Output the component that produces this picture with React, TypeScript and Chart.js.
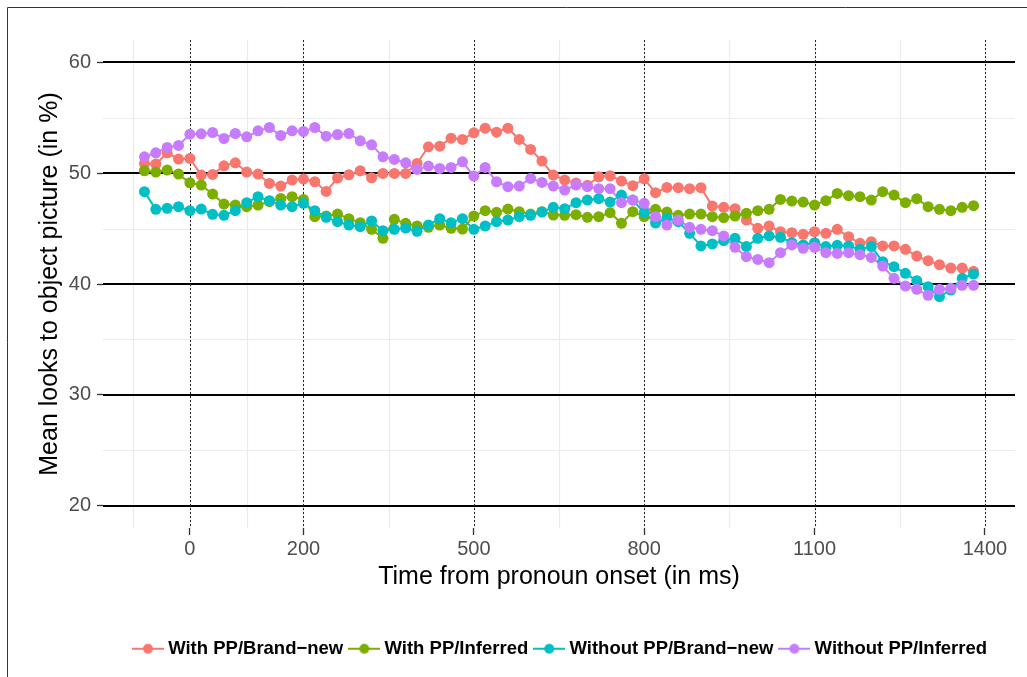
import React, { useEffect, useRef } from "react";
import { Chart, registerables } from "chart.js";

Chart.register(...registerables);

// ---- data ----
const timesMs = [
  -80, -60, -40, -20, 0, 20, 40, 60, 80, 100, 120, 140, 160, 180, 200, 220, 240, 260, 280, 300,
  320, 340, 360, 380, 400, 420, 440, 460, 480, 500, 520, 540, 560, 580, 600, 620, 640, 660, 680, 700,
  720, 740, 760, 780, 800, 820, 840, 860, 880, 900, 920, 940, 960, 980, 1000, 1020, 1040, 1060, 1080, 1100,
  1120, 1140, 1160, 1180, 1200, 1220, 1240, 1260, 1280, 1300, 1320, 1340, 1360, 1380,
];

const withPPBrandNew = [
  50.87, 50.81, 51.83, 51.26, 51.32, 49.82, 49.88, 50.66, 50.93, 50.09, 49.91, 49.07, 48.83, 49.37, 49.46, 49.22, 48.35, 49.55, 49.85, 50.21,
  49.58, 49.97, 49.97, 49.97, 50.87, 52.37, 52.43, 53.15, 53.03, 53.63, 54.05, 53.69, 54.05, 53.03, 52.13, 51.08, 49.82, 49.37, 49.1, 48.9,
  49.67, 49.76, 49.28, 48.86, 49.49, 48.23, 48.71, 48.68, 48.59, 48.68, 47.03, 46.91, 46.79, 45.77, 45.02, 45.23, 44.72, 44.63, 44.48, 44.72,
  44.57, 44.93, 44.27, 43.67, 43.81, 43.43, 43.43, 43.13, 42.52, 42.1, 41.74, 41.44, 41.44, 41.14,
];

const withPPInferred = [
  50.21, 50.09, 50.27, 49.91, 49.13, 48.92, 48.11, 47.21, 47.12, 46.97, 47.12, 47.42, 47.72, 47.87, 47.63, 46.07, 46.13, 46.31, 45.89, 45.53,
  44.93, 44.12, 45.83, 45.47, 45.23, 45.11, 45.32, 45.02, 44.96, 46.13, 46.61, 46.46, 46.76, 46.52, 46.31, 46.52, 46.22, 46.19, 46.25, 46.01,
  46.07, 46.43, 45.47, 46.52, 46.07, 46.73, 46.49, 46.19, 46.31, 46.31, 46.07, 45.98, 46.13, 46.37, 46.61, 46.73, 47.63, 47.48, 47.39, 47.12,
  47.51, 48.17, 47.96, 47.87, 47.57, 48.32, 48.02, 47.33, 47.69, 46.97, 46.73, 46.61, 46.91, 47.06,
];

const withoutPPBrandNew = [
  48.32, 46.73, 46.82, 46.97, 46.61, 46.76, 46.28, 46.19, 46.61, 47.33, 47.87, 47.51, 47.12, 46.97, 47.27, 46.61, 46.01, 45.62, 45.32, 45.17,
  45.68, 44.81, 44.93, 45.05, 44.75, 45.32, 45.89, 45.53, 45.89, 44.93, 45.23, 45.62, 45.77, 46.07, 46.19, 46.49, 46.91, 46.79, 47.33, 47.57,
  47.69, 47.39, 48.02, 47.57, 46.43, 45.5, 45.95, 45.62, 44.57, 43.43, 43.61, 43.91, 44.12, 43.37, 44.12, 44.33, 44.21, 43.73, 43.52, 43.73,
  43.37, 43.49, 43.43, 43.13, 43.37, 42.01, 41.56, 40.96, 40.3, 39.76, 38.86, 39.46, 40.51, 40.9,
];

const withoutPPInferred = [
  51.47, 51.83, 52.31, 52.49, 53.51, 53.54, 53.66, 53.12, 53.57, 53.27, 53.81, 54.11, 53.39, 53.81, 53.75, 54.11, 53.33, 53.48, 53.57, 52.91,
  52.55, 51.47, 51.23, 50.93, 50.33, 50.63, 50.42, 50.51, 51.02, 49.73, 50.51, 49.22, 48.77, 48.83, 49.52, 49.16, 48.83, 48.47, 48.92, 48.77,
  48.59, 48.59, 47.33, 47.57, 47.27, 46.07, 45.32, 45.77, 45.11, 44.93, 44.81, 44.33, 43.31, 42.46, 42.22, 41.92, 42.82, 43.52, 43.22, 43.31,
  42.82, 42.76, 42.82, 42.64, 42.4, 41.62, 40.51, 39.82, 39.52, 38.98, 39.52, 39.61, 39.88, 39.88,
];

const seriesLabels = [
  "With PP/Brand\u2212new",
  "With PP/Inferred",
  "Without PP/Brand\u2212new",
  "Without PP/Inferred",
];
const seriesValues = [withPPBrandNew, withPPInferred, withoutPPBrandNew, withoutPPInferred];
const seriesColors = ["#F8766D", "#7CAE00", "#00BFC4", "#C77CFF"];

const xTickValues = [0, 200, 500, 800, 1100, 1400];
const xMinorValues = [-100, 100, 350, 650, 950, 1250];
const yTickValues = [20, 30, 40, 50, 60];
const yMinorValues = [25, 35, 45, 55];

const xTitle = "Time from pronoun onset (in ms)";
const yTitle = "Mean looks to object picture (in %)";

const FONT = "'Liberation Sans', Arial, Helvetica, sans-serif";
const CANVAS_W = 1124;
const CANVAS_H = 677;

function makeMarker(color: string): HTMLCanvasElement {
  const c = document.createElement("canvas");
  c.width = 32;
  c.height = 12;
  const g = c.getContext("2d")!;
  g.strokeStyle = color;
  g.lineWidth = 2;
  g.beginPath();
  g.moveTo(0, 6);
  g.lineTo(32, 6);
  g.stroke();
  g.fillStyle = color;
  g.beginPath();
  g.arc(16, 6, 5, 0, Math.PI * 2);
  g.fill();
  return c;
}

const ggPlugin = {
  id: "ggGrid",
  beforeDatasetsDraw(chart: any) {
    const { ctx, chartArea: a, scales } = chart;
    const xs = scales.x;
    const ys = scales.y;
    const seg = (x1: number, y1: number, x2: number, y2: number) => {
      ctx.beginPath();
      ctx.moveTo(x1, y1);
      ctx.lineTo(x2, y2);
      ctx.stroke();
    };
    ctx.save();
    ctx.strokeStyle = "#EBEBEB";
    ctx.lineWidth = 1.2;
    [...xMinorValues, ...xTickValues].forEach((v) => {
      const px = Math.round(xs.getPixelForValue(v)) + 0.5;
      seg(px, a.top, px, a.bottom);
    });
    yMinorValues.forEach((v) => {
      const py = Math.round(ys.getPixelForValue(v)) + 0.5;
      seg(a.left, py, a.right, py);
    });
    ctx.strokeStyle = "#000000";
    ctx.lineWidth = 2;
    yTickValues.forEach((v) => {
      const py = Math.round(ys.getPixelForValue(v));
      seg(a.left, py, a.right, py);
    });
    ctx.lineWidth = 1;
    ctx.strokeStyle = "#222222";
    ctx.setLineDash([2, 2]);
    xTickValues.forEach((v) => {
      const px = Math.round(xs.getPixelForValue(v)) + 0.5;
      seg(px, a.top, px, a.bottom);
    });
    ctx.restore();
  },
  afterDraw(chart: any) {
    const { ctx } = chart;
    ctx.save();
    ctx.strokeStyle = "#333333";
    ctx.lineWidth = 1;
    ctx.beginPath();
    ctx.moveTo(7.5, CANVAS_H + 5);
    ctx.lineTo(7.5, 7.5);
    ctx.lineTo(CANVAS_W + 5, 7.5);
    ctx.stroke();
    ctx.restore();
  },
};

export default function App() {
  const canvasRef = useRef<HTMLCanvasElement | null>(null);

  useEffect(() => {
    document.body.style.margin = "0";
    const canvas = canvasRef.current;
    if (!canvas) return;
    const markers = seriesColors.map((c) => makeMarker(c));

    const lineSets = seriesValues.map((vals, s) => ({
      label: seriesLabels[s],
      data: timesMs.map((t, i) => ({ x: t, y: vals[i] })),
      borderColor: seriesColors[s],
      backgroundColor: seriesColors[s],
      borderWidth: 2,
      pointRadius: 0,
      showLine: true,
      fill: false,
      tension: 0,
      order: 8 - s,
    }));
    const pointSets = seriesValues.map((vals, s) => ({
      label: seriesLabels[s] + " pts",
      data: timesMs.map((t, i) => ({ x: t, y: vals[i] })),
      borderColor: seriesColors[s],
      backgroundColor: seriesColors[s],
      pointBackgroundColor: seriesColors[s],
      pointBorderWidth: 0,
      pointRadius: 5.5,
      showLine: false,
      order: 4 - s,
    }));

    const tickFont = { family: FONT, size: 20 };
    const titleFont = { family: FONT, size: 25 };

    const chart = new Chart(canvas, {
      type: "line",
      data: { datasets: [...lineSets, ...pointSets] as any },
      options: {
        animation: false,
        responsive: false,
        devicePixelRatio: 1,
        layout: { padding: { top: 40, left: 0, right: 0, bottom: 9 } },
        plugins: {
          tooltip: { enabled: false },
          legend: {
            position: "bottom",
            onClick: () => {},
            labels: {
              usePointStyle: true,
              pointStyleWidth: 22,
              padding: 10,
              color: "#000000",
              font: { family: FONT, size: 18.5, weight: "bold" },
              generateLabels: () =>
                seriesLabels.map((t, i) => ({
                  text: t,
                  pointStyle: markers[i] as any,
                  fillStyle: seriesColors[i],
                  strokeStyle: seriesColors[i],
                  lineWidth: 0,
                  hidden: false,
                  datasetIndex: i,
                  fontColor: "#000000",
                })),
            },
          },
        },
        scales: {
          x: {
            type: "linear",
            min: -153,
            max: 1453,
            afterBuildTicks: (sc: any) => {
              sc.ticks = xTickValues.map((v) => ({ value: v }));
            },
            afterFit: (sc: any) => {
              sc.height = 101.5;
            },
            ticks: {
              font: tickFont,
              color: "#4D4D4D",
              padding: 2,
              maxRotation: 0,
              autoSkip: false,
              callback: (v: any) => String(v),
            },
            grid: {
              display: true,
              drawOnChartArea: false,
              drawTicks: true,
              tickLength: 7,
              tickColor: "#333333",
              tickWidth: 1.3,
            },
            border: { display: false },
            title: {
              display: true,
              text: xTitle,
              color: "#000000",
              font: titleFont,
              padding: { top: 0, bottom: 37.5 },
            },
          },
          y: {
            type: "linear",
            position: "left",
            min: 18,
            max: 62,
            afterBuildTicks: (sc: any) => {
              sc.ticks = yTickValues.map((v) => ({ value: v }));
            },
            afterFit: (sc: any) => {
              sc.width = 103;
            },
            ticks: {
              font: tickFont,
              color: "#4D4D4D",
              padding: 6,
              callback: (v: any) => String(v),
            },
            grid: {
              display: true,
              drawOnChartArea: false,
              drawTicks: true,
              tickLength: 6,
              tickColor: "#333333",
              tickWidth: 1.3,
            },
            border: { display: false },
            title: {
              display: true,
              text: yTitle,
              color: "#000000",
              font: titleFont,
              padding: { top: 35, bottom: 0 },
            },
          },
          yRight: {
            type: "linear",
            position: "right",
            min: 18,
            max: 62,
            display: true,
            afterFit: (sc: any) => {
              sc.width = CANVAS_W - 1015;
            },
            ticks: { display: false },
            grid: { display: false, drawTicks: false },
            border: { display: false },
          },
        },
      } as any,
      plugins: [ggPlugin],
    });

    return () => {
      chart.destroy();
    };
  }, []);

  return (
    <div
      style={{
        position: "absolute",
        left: 0,
        top: 0,
        width: 1027,
        height: 677,
        overflow: "hidden",
        background: "#ffffff",
      }}
    >
      <canvas
        ref={canvasRef}
        width={CANVAS_W}
        height={CANVAS_H}
        style={{ display: "block", width: CANVAS_W, height: CANVAS_H }}
      />
    </div>
  );
}
